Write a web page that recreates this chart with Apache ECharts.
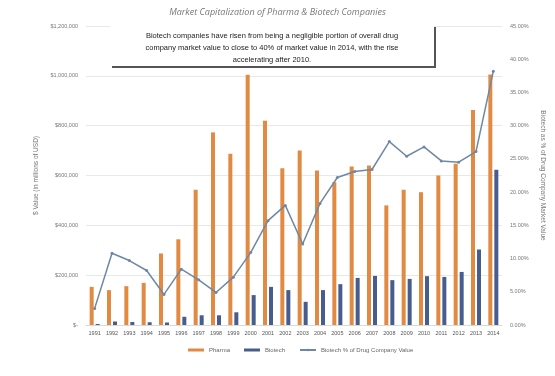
<!DOCTYPE html>
<html>
<head>
<meta charset="utf-8">
<script src="https://cdn.jsdelivr.net/npm/echarts@6/dist/echarts.min.js"></script>
<style>
    html, body { margin: 0; padding: 0; background: #ffffff; }
    #main { width: 555px; height: 376px; }
</style>
</head>
<body>
<div id="main"></div>
<script>
//年份
var years = ['1991', '1992', '1993', '1994', '1995', '1996', '1997', '1998', '1999', '2000', '2001', '2002',
    '2003', '2004', '2005', '2006', '2007', '2008', '2009', '2010', '2011', '2012', '2013', '2014'];
//市值 (百万美元)
var pharma = [153000, 140000, 156000, 169000, 287000, 344000, 543000, 773000, 687000, 1004000, 820000, 629000,
    700000, 620000, 573000, 636000, 640000, 480000, 543000, 533000, 600000, 647000, 863000, 1005000];
var biotech = [4000, 14000, 12000, 11000, 10000, 33000, 39000, 39000, 51000, 120000, 153000, 140000,
    93000, 140000, 164000, 189000, 197000, 180000, 185000, 196000, 193000, 213000, 303000, 623000];
//生物科技占比 (%)
var share = [2.5, 10.8, 9.7, 8.2, 4.6, 8.4, 6.8, 4.9, 7.2, 10.9, 15.7, 18.0,
    12.2, 18.3, 22.2, 23.1, 23.4, 27.6, 25.4, 26.8, 24.7, 24.5, 26.1, 38.2];

var note = ['Biotech companies have risen from being a negligible portion of overall drug',
    'company market value to close to 40% of market value in 2014, with the rise',
    'accelerating after 2010.'];

var myChart = echarts.init(document.getElementById('main'));

function money(v) {
    if (v == 0) return '$-';
    return '$' + v.toLocaleString('en-US');
}

var option = {
    animation: false,
    textStyle: { fontFamily: 'Liberation Sans' },
    title: {
        text: 'Market Capitalization of Pharma & Biotech Companies',
        left: 'center',
        top: 3,
        textStyle: { fontSize: 9, fontStyle: 'italic', fontWeight: 'normal', color: '#777777', fontFamily: 'Open Sans' }
    },
    grid: { left: 86, right: 53, top: 26, bottom: 51 },
    legend: {
        bottom: 18,
        left: 183,
        itemWidth: 16,
        itemHeight: 3,
        itemGap: 14,
        textStyle: { fontSize: 6, color: '#666666' },
        data: [
            { name: 'Pharma', icon: 'rect' },
            { name: 'Biotech', icon: 'rect' },
            { name: 'Biotech % of Drug Company Value' }
        ]
    },
    xAxis: {
        type: 'category',
        data: years,
        axisLine: { lineStyle: { color: '#d9d9d9' } },
        axisTick: { show: false },
        axisLabel: { fontSize: 5.5, color: '#555555', interval: 0, margin: 5 }
    },
    yAxis: [
        {
            type: 'value',
            min: 0,
            max: 1200000,
            interval: 200000,
            name: '$ Value (in millions of USD)',
            nameLocation: 'middle',
            nameGap: 44,
            nameTextStyle: { fontSize: 6.5, color: '#777777' },
            axisLabel: { fontSize: 5.5, color: '#777777', formatter: money },
            splitLine: { lineStyle: { color: '#e8e8e8' } }
        },
        {
            type: 'value',
            min: 0,
            max: 45,
            interval: 5,
            name: 'Biotech as % of Drug Company Market Value',
            nameLocation: 'middle',
            nameGap: 32,
            nameRotate: 270,
            nameTextStyle: { fontSize: 6.5, color: '#777777' },
            axisLabel: { fontSize: 5.5, color: '#777777', formatter: function (v) { return v.toFixed(2) + '%'; } },
            splitLine: { show: false }
        }
    ],
    series: [
        {
            name: 'Pharma',
            type: 'bar',
            data: pharma,
            barWidth: 4,
            barGap: '50%',
            itemStyle: { color: '#e28a44' }
        },
        {
            name: 'Biotech',
            type: 'bar',
            data: biotech,
            barWidth: 4,
            itemStyle: { color: '#475c8f' }
        },
        {
            name: 'Biotech % of Drug Company Value',
            type: 'line',
            yAxisIndex: 1,
            data: share,
            symbol: 'circle',
            symbolSize: 3,
            lineStyle: { color: '#6d88a6', width: 1.5 },
            itemStyle: { color: '#6d88a6' }
        }
    ],
    graphic: [
        //说明文字框
        { type: 'rect', left: 112, top: 27, shape: { width: 324, height: 41 }, style: { fill: '#555555' }, z: 10 },
        { type: 'rect', left: 110, top: 25, shape: { width: 324, height: 41 }, style: { fill: '#ffffff' }, z: 11 },
        {
            type: 'text', x: 272, y: 30, z: 12,
            style: { text: note.join('\n'), fill: '#222222', fontSize: 7.5, lineHeight: 12, align: 'center', fontFamily: 'Liberation Sans' }
        }
    ]
};

myChart.setOption(option);
</script>
</body>
</html>
